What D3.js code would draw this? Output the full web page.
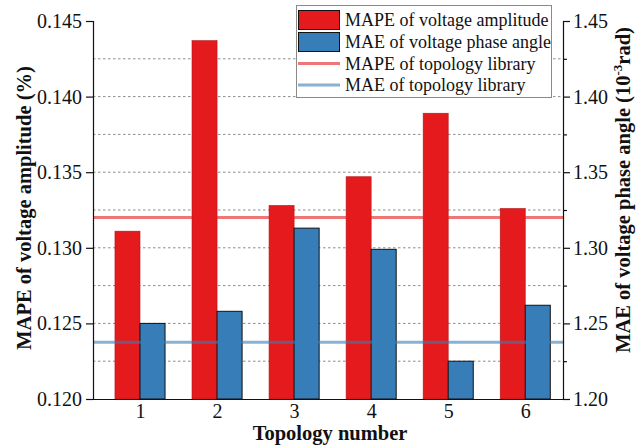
<!DOCTYPE html>
<html>
<head>
<meta charset="utf-8">
<script src="https://cdn.jsdelivr.net/npm/d3@7"></script>
<style>
  html, body { margin: 0; padding: 0; background: #fff; }
  svg { display: block; font-family: "Liberation Serif", "Times New Roman", serif; }
</style>
</head>
<body>
<svg id="chart" width="636" height="447"></svg>
<script>
// Topology numbers on the x axis
const topologies = [1, 2, 3, 4, 5, 6];
// MAPE of voltage amplitude (%), left axis
const mapeVoltage = [0.1311, 0.1437, 0.1328, 0.1347, 0.1389, 0.1326];
// MAE of voltage phase angle (10^-3 rad), right axis
const maePhase = [1.250, 1.258, 1.313, 1.299, 1.225, 1.262];
// Reference levels of the topology library
const mapeLibrary = 0.132;
const maeLibrary = 1.2375;
// Axis ticks
const leftTicks = [0.120, 0.125, 0.130, 0.135, 0.140, 0.145];
const rightTicks = [1.20, 1.25, 1.30, 1.35, 1.40, 1.45];
const rightMinorTicks = [1.225, 1.275, 1.325, 1.375, 1.425];
const gridValues = [1.225, 1.25, 1.275, 1.30, 1.325, 1.35, 1.375, 1.40, 1.425];
const legendLabels = ["MAPE of voltage amplitude", "MAE of voltage phase angle",
                      "MAPE of topology library", "MAE of topology library"];

const RED = "#E41A1C", BLUE = "#377EB8";
const plot = { left: 93, right: 563, top: 21, bottom: 399 };

const svg = d3.select("#chart");

const x = d3.scaleLinear().domain([0.39, 6.49]).range([plot.left, plot.right]);
const yL = d3.scaleLinear().domain([0.120, 0.145]).range([plot.bottom, plot.top]);
const yR = d3.scaleLinear().domain([1.20, 1.45]).range([plot.bottom, plot.top]);
const barW = 0.325;

// dotted horizontal grid
svg.append("g").selectAll("line").data(gridValues).join("line")
  .attr("x1", plot.left).attr("x2", plot.right)
  .attr("y1", d => yR(d)).attr("y2", d => yR(d))
  .attr("stroke", "#8c8c8c").attr("stroke-width", 1)
  .attr("stroke-dasharray", "2.5,2.5");

// red bars (left scale)
svg.append("g").selectAll("rect").data(topologies).join("rect")
  .attr("x", (d) => x(d - barW))
  .attr("width", (d) => x(d) - x(d - barW))
  .attr("y", (d, i) => yL(mapeVoltage[i]))
  .attr("height", (d, i) => yL(0.120) - yL(mapeVoltage[i]))
  .attr("fill", RED).attr("stroke", "#b3161a").attr("stroke-width", 0.6);

// blue bars (right scale)
svg.append("g").selectAll("rect").data(topologies).join("rect")
  .attr("x", (d) => x(d))
  .attr("width", (d) => x(d + barW) - x(d))
  .attr("y", (d, i) => yR(maePhase[i]))
  .attr("height", (d, i) => yR(1.20) - yR(maePhase[i]))
  .attr("fill", BLUE).attr("stroke", "#111").attr("stroke-width", 1);

// library reference lines
svg.append("line")
  .attr("x1", plot.left).attr("x2", plot.right)
  .attr("y1", yL(mapeLibrary)).attr("y2", yL(mapeLibrary))
  .attr("stroke", RED).attr("stroke-opacity", 0.6).attr("stroke-width", 3);
svg.append("line")
  .attr("x1", plot.left).attr("x2", plot.right)
  .attr("y1", yR(maeLibrary)).attr("y2", yR(maeLibrary))
  .attr("stroke", BLUE).attr("stroke-opacity", 0.6).attr("stroke-width", 3);

// legend
const lg = svg.append("g");
lg.append("rect").attr("x", 296.5).attr("y", 5.5).attr("width", 255).attr("height", 92)
  .attr("fill", "#fff").attr("stroke", "#8a8a8a").attr("stroke-width", 1);
const rowY = [20, 42, 63.5, 85];
lg.append("rect").attr("x", 298.5).attr("y", 10.5).attr("width", 41).attr("height", 19)
  .attr("fill", RED).attr("stroke", "#111").attr("stroke-width", 1);
lg.append("rect").attr("x", 298.5).attr("y", 32.5).attr("width", 41).attr("height", 19)
  .attr("fill", BLUE).attr("stroke", "#111").attr("stroke-width", 1);
lg.append("line").attr("x1", 298).attr("x2", 340).attr("y1", rowY[2]).attr("y2", rowY[2])
  .attr("stroke", RED).attr("stroke-opacity", 0.6).attr("stroke-width", 3);
lg.append("line").attr("x1", 298).attr("x2", 340).attr("y1", rowY[3]).attr("y2", rowY[3])
  .attr("stroke", BLUE).attr("stroke-opacity", 0.6).attr("stroke-width", 3);
lg.selectAll("text").data(legendLabels).join("text")
  .attr("x", 345).attr("y", (d, i) => rowY[i] + 6)
  .attr("font-size", 18).attr("fill", "#111").text(d => d);

// axes
svg.append("g").attr("transform", `translate(${plot.left},0)`)
  .call(d3.axisLeft(yL).tickValues(leftTicks).tickFormat(d3.format(".3f")).tickSizeOuter(0).tickSize(7).tickPadding(4));
svg.append("g").attr("transform", `translate(${plot.right},0)`)
  .call(d3.axisRight(yR).tickValues(rightTicks).tickFormat(d3.format(".2f")).tickSizeOuter(0).tickSize(7).tickPadding(3));
svg.append("g").attr("transform", `translate(${plot.right},0)`)
  .call(d3.axisRight(yR).tickValues(rightMinorTicks).tickFormat("").tickSizeOuter(0).tickSize(4))
  .select(".domain").remove();
svg.append("g").attr("transform", `translate(0,${plot.bottom})`)
  .call(d3.axisBottom(x).tickValues(topologies).tickFormat(d3.format("d")).tickSize(0).tickSizeOuter(0).tickPadding(5));

svg.selectAll(".tick text").attr("font-family", "Liberation Serif").attr("font-size", 20).attr("fill", "#111");
svg.selectAll(".domain, .tick line").attr("stroke", "#111").attr("stroke-width", 1.2);

// axis titles
svg.append("text").attr("x", 330).attr("y", 440).attr("text-anchor", "middle")
  .attr("font-size", 20.5).attr("font-weight", "bold").attr("fill", "#111").text("Topology number");
svg.append("text").attr("transform", "translate(31,208) rotate(-90)").attr("text-anchor", "middle")
  .attr("font-size", 20.5).attr("font-weight", "bold").attr("fill", "#111")
  .text("MAPE of voltage amplitude (%)");
const rt = svg.append("text").attr("transform", "translate(630,190) rotate(-90)").attr("text-anchor", "middle")
  .attr("font-size", 20.5).attr("font-weight", "bold").attr("fill", "#111");
rt.append("tspan").text("MAE of voltage phase angle (10");
rt.append("tspan").attr("dy", -8).attr("font-size", 13).text("-3");
rt.append("tspan").attr("dy", 8).text("rad)");
</script>
</body>
</html>
